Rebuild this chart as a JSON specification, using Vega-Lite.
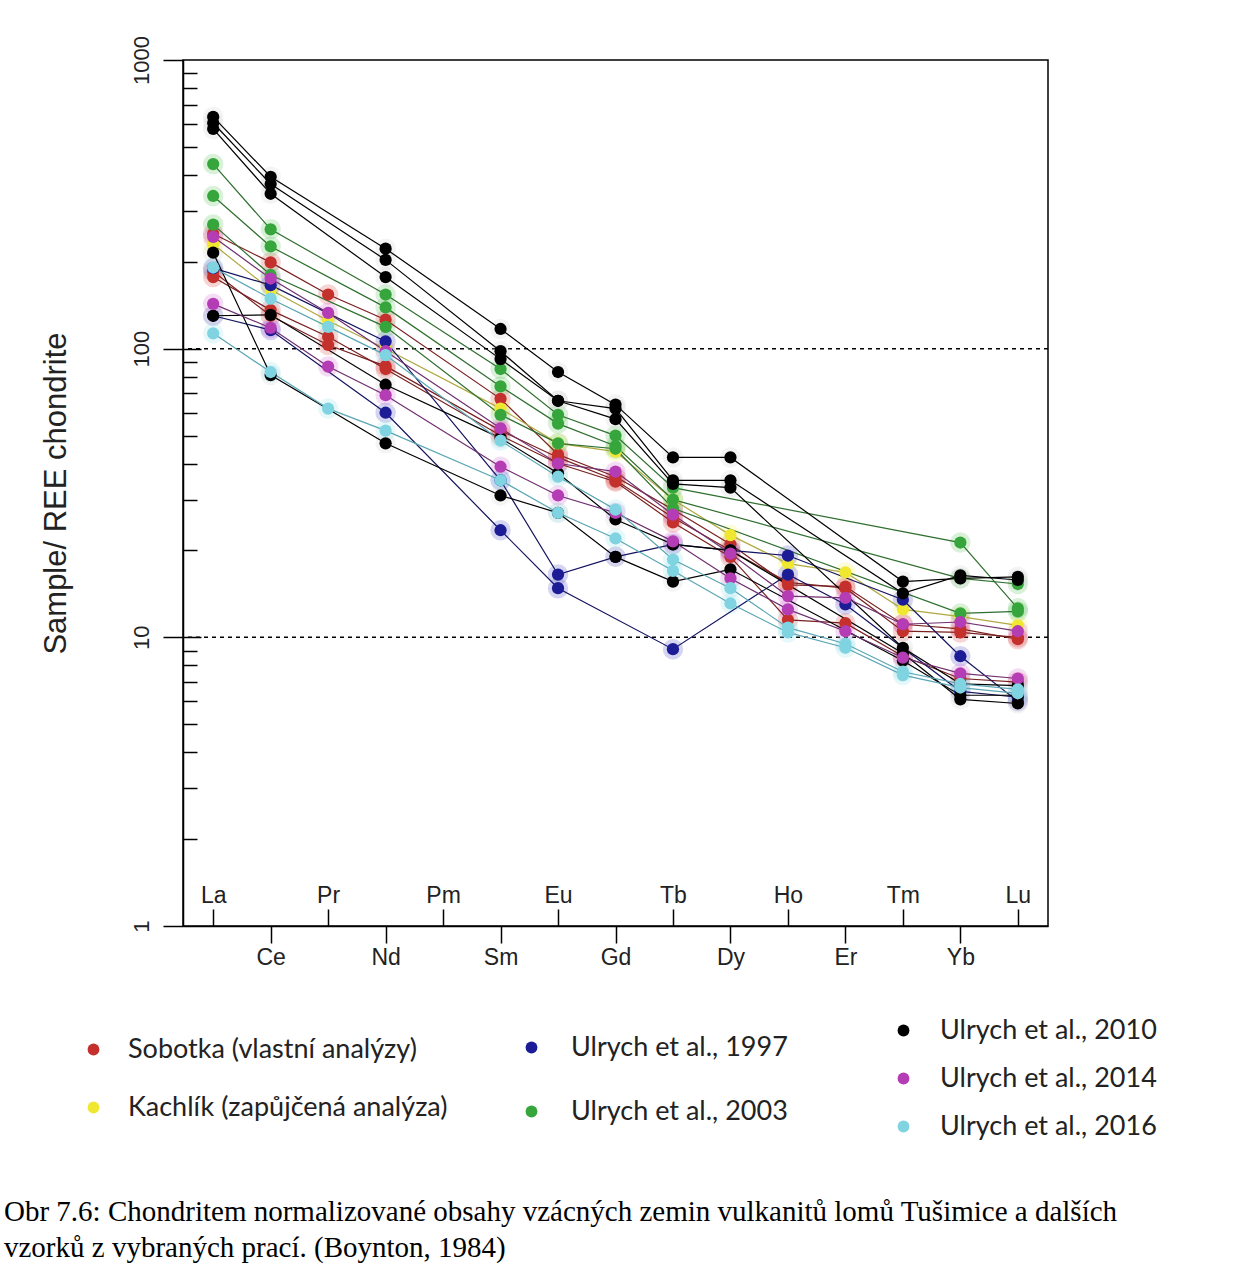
{
  "$schema": "https://vega.github.io/schema/vega-lite/v6.json",
  "width": 865,
  "height": 866,
  "autosize": {"type": "none"},
  "padding": {"left": 183, "top": 60, "right": 191, "bottom": 341},
  "background": "white",
  "title": {
    "text": ["Obr 7.6:  Chondritem normalizované obsahy vzácných zemin vulkanitů lomů Tušimice a dalších", "vzorků z vybraných prací. (Boynton, 1984)"],
    "orient": "bottom", "anchor": "start", "frame": "group", "offset": 58, "dx": -179,
    "font": "Liberation Serif", "fontSize": 29, "fontWeight": "normal", "lineHeight": 36, "color": "#000000"
  },
  "datasets": {
    "ree": [
      {"s":"R1","g":"Sobotka (vlastní analýzy)","e":"La","v":250},
      {"s":"R1","g":"Sobotka (vlastní analýzy)","e":"Ce","v":199},
      {"s":"R1","g":"Sobotka (vlastní analýzy)","e":"Pr","v":154},
      {"s":"R1","g":"Sobotka (vlastní analýzy)","e":"Nd","v":126},
      {"s":"R1","g":"Sobotka (vlastní analýzy)","e":"Sm","v":67},
      {"s":"R1","g":"Sobotka (vlastní analýzy)","e":"Eu","v":43},
      {"s":"R1","g":"Sobotka (vlastní analýzy)","e":"Gd","v":36},
      {"s":"R1","g":"Sobotka (vlastní analýzy)","e":"Tb","v":27.7},
      {"s":"R1","g":"Sobotka (vlastní analýzy)","e":"Dy","v":21},
      {"s":"R1","g":"Sobotka (vlastní analýzy)","e":"Ho","v":15.2},
      {"s":"R1","g":"Sobotka (vlastní analýzy)","e":"Er","v":15},
      {"s":"R1","g":"Sobotka (vlastní analýzy)","e":"Tm","v":11.1},
      {"s":"R1","g":"Sobotka (vlastní analýzy)","e":"Yb","v":10.7},
      {"s":"R1","g":"Sobotka (vlastní analýzy)","e":"Lu","v":9.85},
      {"s":"R2","g":"Sobotka (vlastní analýzy)","e":"La","v":177},
      {"s":"R2","g":"Sobotka (vlastní analýzy)","e":"Ce","v":136},
      {"s":"R2","g":"Sobotka (vlastní analýzy)","e":"Pr","v":110},
      {"s":"R2","g":"Sobotka (vlastní analýzy)","e":"Nd","v":85},
      {"s":"R2","g":"Sobotka (vlastní analýzy)","e":"Sm","v":50},
      {"s":"R2","g":"Sobotka (vlastní analýzy)","e":"Eu","v":40},
      {"s":"R2","g":"Sobotka (vlastní analýzy)","e":"Gd","v":34.6},
      {"s":"R2","g":"Sobotka (vlastní analýzy)","e":"Tb","v":25},
      {"s":"R2","g":"Sobotka (vlastní analýzy)","e":"Dy","v":19},
      {"s":"R2","g":"Sobotka (vlastní analýzy)","e":"Ho","v":11.5},
      {"s":"R2","g":"Sobotka (vlastní analýzy)","e":"Er","v":11.2},
      {"s":"R2","g":"Sobotka (vlastní analýzy)","e":"Tm","v":8.6},
      {"s":"R2","g":"Sobotka (vlastní analýzy)","e":"Yb","v":7.2},
      {"s":"R2","g":"Sobotka (vlastní analýzy)","e":"Lu","v":7.0},
      {"s":"R3","g":"Sobotka (vlastní analýzy)","e":"La","v":185},
      {"s":"R3","g":"Sobotka (vlastní analýzy)","e":"Ce","v":130},
      {"s":"R3","g":"Sobotka (vlastní analýzy)","e":"Pr","v":103},
      {"s":"R3","g":"Sobotka (vlastní analýzy)","e":"Nd","v":87},
      {"s":"R3","g":"Sobotka (vlastní analýzy)","e":"Sm","v":52},
      {"s":"R3","g":"Sobotka (vlastní analýzy)","e":"Eu","v":42},
      {"s":"R3","g":"Sobotka (vlastní analýzy)","e":"Gd","v":35},
      {"s":"R3","g":"Sobotka (vlastní analýzy)","e":"Tb","v":26},
      {"s":"R3","g":"Sobotka (vlastní analýzy)","e":"Dy","v":20},
      {"s":"R3","g":"Sobotka (vlastní analýzy)","e":"Ho","v":15.5},
      {"s":"R3","g":"Sobotka (vlastní analýzy)","e":"Er","v":14.8},
      {"s":"R3","g":"Sobotka (vlastní analýzy)","e":"Tm","v":10.5},
      {"s":"R3","g":"Sobotka (vlastní analýzy)","e":"Yb","v":10.4},
      {"s":"R3","g":"Sobotka (vlastní analýzy)","e":"Lu","v":10.0},
      {"s":"K1","g":"Kachlík (zapůjčená analýza)","e":"La","v":230},
      {"s":"K1","g":"Kachlík (zapůjčená analýza)","e":"Ce","v":160},
      {"s":"K1","g":"Kachlík (zapůjčená analýza)","e":"Pr","v":125},
      {"s":"K1","g":"Kachlík (zapůjčená analýza)","e":"Nd","v":100},
      {"s":"K1","g":"Kachlík (zapůjčená analýza)","e":"Sm","v":62},
      {"s":"K1","g":"Kachlík (zapůjčená analýza)","e":"Eu","v":47},
      {"s":"K1","g":"Kachlík (zapůjčená analýza)","e":"Gd","v":44},
      {"s":"K1","g":"Kachlík (zapůjčená analýza)","e":"Tb","v":30},
      {"s":"K1","g":"Kachlík (zapůjčená analýza)","e":"Dy","v":22.6},
      {"s":"K1","g":"Kachlík (zapůjčená analýza)","e":"Ho","v":18},
      {"s":"K1","g":"Kachlík (zapůjčená analýza)","e":"Er","v":16.8},
      {"s":"K1","g":"Kachlík (zapůjčená analýza)","e":"Tm","v":12.5},
      {"s":"K1","g":"Kachlík (zapůjčená analýza)","e":"Yb","v":11.8},
      {"s":"K1","g":"Kachlík (zapůjčená analýza)","e":"Lu","v":11},
      {"s":"N1","g":"Ulrych et al., 1997","e":"La","v":190},
      {"s":"N1","g":"Ulrych et al., 1997","e":"Ce","v":166},
      {"s":"N1","g":"Ulrych et al., 1997","e":"Nd","v":106},
      {"s":"N1","g":"Ulrych et al., 1997","e":"Sm","v":35},
      {"s":"N1","g":"Ulrych et al., 1997","e":"Eu","v":16.5},
      {"s":"N1","g":"Ulrych et al., 1997","e":"Gd","v":19},
      {"s":"N1","g":"Ulrych et al., 1997","e":"Tb","v":21},
      {"s":"N1","g":"Ulrych et al., 1997","e":"Dy","v":20},
      {"s":"N1","g":"Ulrych et al., 1997","e":"Ho","v":19.2},
      {"s":"N1","g":"Ulrych et al., 1997","e":"Tm","v":13.5},
      {"s":"N1","g":"Ulrych et al., 1997","e":"Yb","v":8.6},
      {"s":"N1","g":"Ulrych et al., 1997","e":"Lu","v":6.0},
      {"s":"N2","g":"Ulrych et al., 1997","e":"La","v":130},
      {"s":"N2","g":"Ulrych et al., 1997","e":"Ce","v":116},
      {"s":"N2","g":"Ulrych et al., 1997","e":"Nd","v":60},
      {"s":"N2","g":"Ulrych et al., 1997","e":"Sm","v":23.5},
      {"s":"N2","g":"Ulrych et al., 1997","e":"Eu","v":14.8},
      {"s":"N2","g":"Ulrych et al., 1997","e":"Tb","v":9.1},
      {"s":"N2","g":"Ulrych et al., 1997","e":"Ho","v":16.5},
      {"s":"N2","g":"Ulrych et al., 1997","e":"Er","v":13},
      {"s":"N2","g":"Ulrych et al., 1997","e":"Yb","v":6.5},
      {"s":"N2","g":"Ulrych et al., 1997","e":"Lu","v":6.2},
      {"s":"G1","g":"Ulrych et al., 2003","e":"La","v":436},
      {"s":"G1","g":"Ulrych et al., 2003","e":"Ce","v":259},
      {"s":"G1","g":"Ulrych et al., 2003","e":"Nd","v":154},
      {"s":"G1","g":"Ulrych et al., 2003","e":"Sm","v":85},
      {"s":"G1","g":"Ulrych et al., 2003","e":"Eu","v":59},
      {"s":"G1","g":"Ulrych et al., 2003","e":"Gd","v":50},
      {"s":"G1","g":"Ulrych et al., 2003","e":"Tb","v":33},
      {"s":"G1","g":"Ulrych et al., 2003","e":"Yb","v":21.3},
      {"s":"G1","g":"Ulrych et al., 2003","e":"Lu","v":12.6},
      {"s":"G2","g":"Ulrych et al., 2003","e":"La","v":338},
      {"s":"G2","g":"Ulrych et al., 2003","e":"Ce","v":226},
      {"s":"G2","g":"Ulrych et al., 2003","e":"Nd","v":139},
      {"s":"G2","g":"Ulrych et al., 2003","e":"Sm","v":74},
      {"s":"G2","g":"Ulrych et al., 2003","e":"Eu","v":55},
      {"s":"G2","g":"Ulrych et al., 2003","e":"Gd","v":46},
      {"s":"G2","g":"Ulrych et al., 2003","e":"Tb","v":30},
      {"s":"G2","g":"Ulrych et al., 2003","e":"Yb","v":16},
      {"s":"G2","g":"Ulrych et al., 2003","e":"Lu","v":15.3},
      {"s":"G3","g":"Ulrych et al., 2003","e":"La","v":269},
      {"s":"G3","g":"Ulrych et al., 2003","e":"Ce","v":180},
      {"s":"G3","g":"Ulrych et al., 2003","e":"Nd","v":119},
      {"s":"G3","g":"Ulrych et al., 2003","e":"Sm","v":59},
      {"s":"G3","g":"Ulrych et al., 2003","e":"Eu","v":47},
      {"s":"G3","g":"Ulrych et al., 2003","e":"Gd","v":45},
      {"s":"G3","g":"Ulrych et al., 2003","e":"Tb","v":28},
      {"s":"G3","g":"Ulrych et al., 2003","e":"Yb","v":12.1},
      {"s":"G3","g":"Ulrych et al., 2003","e":"Lu","v":12.3},
      {"s":"B1","g":"Ulrych et al., 2010","e":"La","v":635},
      {"s":"B1","g":"Ulrych et al., 2010","e":"Ce","v":394},
      {"s":"B1","g":"Ulrych et al., 2010","e":"Nd","v":222},
      {"s":"B1","g":"Ulrych et al., 2010","e":"Sm","v":117},
      {"s":"B1","g":"Ulrych et al., 2010","e":"Eu","v":83},
      {"s":"B1","g":"Ulrych et al., 2010","e":"Gd","v":64},
      {"s":"B1","g":"Ulrych et al., 2010","e":"Tb","v":42},
      {"s":"B1","g":"Ulrych et al., 2010","e":"Dy","v":42},
      {"s":"B1","g":"Ulrych et al., 2010","e":"Tm","v":15.6},
      {"s":"B1","g":"Ulrych et al., 2010","e":"Yb","v":16},
      {"s":"B1","g":"Ulrych et al., 2010","e":"Lu","v":16.2},
      {"s":"B2","g":"Ulrych et al., 2010","e":"La","v":605},
      {"s":"B2","g":"Ulrych et al., 2010","e":"Ce","v":372},
      {"s":"B2","g":"Ulrych et al., 2010","e":"Nd","v":203},
      {"s":"B2","g":"Ulrych et al., 2010","e":"Sm","v":98},
      {"s":"B2","g":"Ulrych et al., 2010","e":"Eu","v":66},
      {"s":"B2","g":"Ulrych et al., 2010","e":"Gd","v":62},
      {"s":"B2","g":"Ulrych et al., 2010","e":"Tb","v":35},
      {"s":"B2","g":"Ulrych et al., 2010","e":"Dy","v":35},
      {"s":"B2","g":"Ulrych et al., 2010","e":"Tm","v":14.2},
      {"s":"B2","g":"Ulrych et al., 2010","e":"Yb","v":16.4},
      {"s":"B2","g":"Ulrych et al., 2010","e":"Lu","v":15.8},
      {"s":"B3","g":"Ulrych et al., 2010","e":"La","v":577},
      {"s":"B3","g":"Ulrych et al., 2010","e":"Ce","v":344},
      {"s":"B3","g":"Ulrych et al., 2010","e":"Nd","v":177},
      {"s":"B3","g":"Ulrych et al., 2010","e":"Sm","v":92},
      {"s":"B3","g":"Ulrych et al., 2010","e":"Eu","v":66},
      {"s":"B3","g":"Ulrych et al., 2010","e":"Gd","v":57},
      {"s":"B3","g":"Ulrych et al., 2010","e":"Tb","v":34},
      {"s":"B3","g":"Ulrych et al., 2010","e":"Dy","v":33},
      {"s":"B3","g":"Ulrych et al., 2010","e":"Tm","v":9.2},
      {"s":"B3","g":"Ulrych et al., 2010","e":"Yb","v":6.9},
      {"s":"B3","g":"Ulrych et al., 2010","e":"Lu","v":6.8},
      {"s":"B4","g":"Ulrych et al., 2010","e":"La","v":215},
      {"s":"B4","g":"Ulrych et al., 2010","e":"Ce","v":81},
      {"s":"B4","g":"Ulrych et al., 2010","e":"Nd","v":47},
      {"s":"B4","g":"Ulrych et al., 2010","e":"Sm","v":31},
      {"s":"B4","g":"Ulrych et al., 2010","e":"Eu","v":27},
      {"s":"B4","g":"Ulrych et al., 2010","e":"Gd","v":19},
      {"s":"B4","g":"Ulrych et al., 2010","e":"Tb","v":15.6},
      {"s":"B4","g":"Ulrych et al., 2010","e":"Dy","v":17.2},
      {"s":"B4","g":"Ulrych et al., 2010","e":"Tm","v":8.3},
      {"s":"B4","g":"Ulrych et al., 2010","e":"Yb","v":6.3},
      {"s":"B4","g":"Ulrych et al., 2010","e":"Lu","v":6.3},
      {"s":"B5","g":"Ulrych et al., 2010","e":"La","v":130},
      {"s":"B5","g":"Ulrych et al., 2010","e":"Ce","v":131},
      {"s":"B5","g":"Ulrych et al., 2010","e":"Nd","v":75},
      {"s":"B5","g":"Ulrych et al., 2010","e":"Sm","v":49},
      {"s":"B5","g":"Ulrych et al., 2010","e":"Eu","v":37},
      {"s":"B5","g":"Ulrych et al., 2010","e":"Gd","v":25.6},
      {"s":"B5","g":"Ulrych et al., 2010","e":"Tb","v":21},
      {"s":"B5","g":"Ulrych et al., 2010","e":"Dy","v":20},
      {"s":"B5","g":"Ulrych et al., 2010","e":"Tm","v":8.8},
      {"s":"B5","g":"Ulrych et al., 2010","e":"Yb","v":6.1},
      {"s":"B5","g":"Ulrych et al., 2010","e":"Lu","v":5.9},
      {"s":"M1","g":"Ulrych et al., 2014","e":"La","v":244},
      {"s":"M1","g":"Ulrych et al., 2014","e":"Ce","v":175},
      {"s":"M1","g":"Ulrych et al., 2014","e":"Pr","v":133},
      {"s":"M1","g":"Ulrych et al., 2014","e":"Nd","v":98},
      {"s":"M1","g":"Ulrych et al., 2014","e":"Sm","v":53},
      {"s":"M1","g":"Ulrych et al., 2014","e":"Eu","v":40},
      {"s":"M1","g":"Ulrych et al., 2014","e":"Gd","v":37.5},
      {"s":"M1","g":"Ulrych et al., 2014","e":"Tb","v":26.6},
      {"s":"M1","g":"Ulrych et al., 2014","e":"Dy","v":19.5},
      {"s":"M1","g":"Ulrych et al., 2014","e":"Ho","v":13.9},
      {"s":"M1","g":"Ulrych et al., 2014","e":"Er","v":13.7},
      {"s":"M1","g":"Ulrych et al., 2014","e":"Tm","v":11.1},
      {"s":"M1","g":"Ulrych et al., 2014","e":"Yb","v":11.3},
      {"s":"M1","g":"Ulrych et al., 2014","e":"Lu","v":10.5},
      {"s":"M2","g":"Ulrych et al., 2014","e":"La","v":143},
      {"s":"M2","g":"Ulrych et al., 2014","e":"Ce","v":118},
      {"s":"M2","g":"Ulrych et al., 2014","e":"Pr","v":86.7},
      {"s":"M2","g":"Ulrych et al., 2014","e":"Nd","v":69},
      {"s":"M2","g":"Ulrych et al., 2014","e":"Sm","v":39},
      {"s":"M2","g":"Ulrych et al., 2014","e":"Eu","v":31},
      {"s":"M2","g":"Ulrych et al., 2014","e":"Gd","v":27},
      {"s":"M2","g":"Ulrych et al., 2014","e":"Tb","v":21.5},
      {"s":"M2","g":"Ulrych et al., 2014","e":"Dy","v":16},
      {"s":"M2","g":"Ulrych et al., 2014","e":"Ho","v":12.5},
      {"s":"M2","g":"Ulrych et al., 2014","e":"Er","v":10.5},
      {"s":"M2","g":"Ulrych et al., 2014","e":"Tm","v":8.5},
      {"s":"M2","g":"Ulrych et al., 2014","e":"Yb","v":7.5},
      {"s":"M2","g":"Ulrych et al., 2014","e":"Lu","v":7.2},
      {"s":"C1","g":"Ulrych et al.,  2016","e":"La","v":191},
      {"s":"C1","g":"Ulrych et al.,  2016","e":"Ce","v":149},
      {"s":"C1","g":"Ulrych et al.,  2016","e":"Pr","v":119},
      {"s":"C1","g":"Ulrych et al.,  2016","e":"Nd","v":95},
      {"s":"C1","g":"Ulrych et al.,  2016","e":"Sm","v":48},
      {"s":"C1","g":"Ulrych et al.,  2016","e":"Eu","v":36},
      {"s":"C1","g":"Ulrych et al.,  2016","e":"Gd","v":27.7},
      {"s":"C1","g":"Ulrych et al.,  2016","e":"Tb","v":18.6},
      {"s":"C1","g":"Ulrych et al.,  2016","e":"Dy","v":14.8},
      {"s":"C1","g":"Ulrych et al.,  2016","e":"Ho","v":10.8},
      {"s":"C1","g":"Ulrych et al.,  2016","e":"Er","v":9.5},
      {"s":"C1","g":"Ulrych et al.,  2016","e":"Tm","v":7.6},
      {"s":"C1","g":"Ulrych et al.,  2016","e":"Yb","v":6.9},
      {"s":"C1","g":"Ulrych et al.,  2016","e":"Lu","v":6.6},
      {"s":"C2","g":"Ulrych et al.,  2016","e":"La","v":113},
      {"s":"C2","g":"Ulrych et al.,  2016","e":"Ce","v":83},
      {"s":"C2","g":"Ulrych et al.,  2016","e":"Pr","v":62},
      {"s":"C2","g":"Ulrych et al.,  2016","e":"Nd","v":52},
      {"s":"C2","g":"Ulrych et al.,  2016","e":"Sm","v":35},
      {"s":"C2","g":"Ulrych et al.,  2016","e":"Eu","v":27},
      {"s":"C2","g":"Ulrych et al.,  2016","e":"Gd","v":22},
      {"s":"C2","g":"Ulrych et al.,  2016","e":"Tb","v":17},
      {"s":"C2","g":"Ulrych et al.,  2016","e":"Dy","v":13.1},
      {"s":"C2","g":"Ulrych et al.,  2016","e":"Ho","v":10.4},
      {"s":"C2","g":"Ulrych et al.,  2016","e":"Er","v":9.2},
      {"s":"C2","g":"Ulrych et al.,  2016","e":"Tm","v":7.4},
      {"s":"C2","g":"Ulrych et al.,  2016","e":"Yb","v":6.7},
      {"s":"C2","g":"Ulrych et al.,  2016","e":"Lu","v":6.4}
    ]
  },
  "resolve": {"scale": {"color": "independent"}, "axis": {"x": "independent", "y": "independent"}},
  "layer": [
    {
      "data": {"values": [{"ref": 10}, {"ref": 100}]},
      "mark": {"type": "rule", "color": "#000000", "strokeWidth": 1.5, "strokeDash": [4, 4]},
      "encoding": {
        "y": {"field": "ref", "type": "quantitative",
          "scale": {"type": "log", "domain": [1, 1000], "nice": false},
          "axis": {"values": [1, 10, 100, 1000], "format": "d", "orient": "left", "tickSize": 20, "tickWidth": 1.5, "tickColor": "#000000",
            "domain": true, "domainColor": "#000000", "domainWidth": 1.5, "grid": false,
            "labelAngle": -90, "labelAlign": "center", "labelBaseline": "alphabetic", "labelPadding": 15,
            "labelFont": "Liberation Sans", "labelFontSize": 22, "labelColor": "#222222",
            "labelFlush": false, "labelOverlap": false, "labelBound": false,
            "title": "Sample/ REE chondrite", "titleFont": "Liberation Sans", "titleFontSize": 31,
            "titleFontWeight": "normal", "titleColor": "#222222", "titlePadding": 58}}
      }
    },
    {
      "data": {"name": "ree"},
      "mark": {"type": "point", "filled": true, "opacity": 0.22, "size": 420, "shape": "circle"},
      "encoding": {
        "x": {"field": "e", "type": "ordinal",
          "sort": ["La","Ce","Pr","Nd","Pm","Sm","Eu","Gd","Tb","Dy","Ho","Er","Tm","Yb","Lu"],
          "scale": {"type": "point", "padding": 0.525,
            "domain": ["La","Ce","Pr","Nd","Pm","Sm","Eu","Gd","Tb","Dy","Ho","Er","Tm","Yb","Lu"]},
          "axis": {"values": ["Ce","Nd","Sm","Gd","Dy","Er","Yb"], "orient": "bottom", "tickSize": 17, "tickWidth": 1.5,
            "tickColor": "#000000", "domain": false, "grid": false, "labelAngle": 0, "labelPadding": 3,
            "labelBaseline": "top", "labelFont": "Liberation Sans", "labelFontSize": 23, "labelColor": "#222222", "title": null}},
        "y": {"field": "v", "type": "quantitative", "scale": {"type": "log", "domain": [1, 1000], "nice": false},
          "axis": {"values": [10, 100], "orient": "left", "tickSize": -18, "tickWidth": 1.5, "tickColor": "#000000",
            "domain": false, "labels": false, "grid": false, "title": null}},
        "color": {"field": "g", "type": "nominal", "legend": null,
          "scale": {"domain": ["Sobotka (vlastní analýzy)","Kachlík (zapůjčená analýza)","Ulrych et al., 1997","Ulrych et al., 2003","Ulrych et al., 2010","Ulrych et al., 2014","Ulrych et al.,  2016"],
            "range": ["#d84040","#f5f050","#4040c0","#50c050","#cccccc","#d060d0","#90e0ea"]}}
      }
    },
    {
      "data": {"name": "ree"},
      "mark": {"type": "line", "strokeWidth": 1.2},
      "encoding": {
        "x": {"field": "e", "type": "ordinal",
          "sort": ["La","Ce","Pr","Nd","Pm","Sm","Eu","Gd","Tb","Dy","Ho","Er","Tm","Yb","Lu"],
          "scale": {"type": "point", "padding": 0.525,
            "domain": ["La","Ce","Pr","Nd","Pm","Sm","Eu","Gd","Tb","Dy","Ho","Er","Tm","Yb","Lu"]},
          "axis": {"values": ["La","Pr","Pm","Eu","Tb","Ho","Tm","Lu"], "orient": "bottom", "tickSize": -17, "tickWidth": 1.5,
            "tickColor": "#000000", "domain": true, "domainColor": "#000000", "domainWidth": 1.5, "grid": false,
            "labelAngle": 0, "labelPadding": -7, "labelBaseline": "alphabetic",
            "labelFont": "Liberation Sans", "labelFontSize": 23, "labelColor": "#222222", "title": null}},
        "y": {"field": "v", "type": "quantitative", "scale": {"type": "log", "domain": [1, 1000], "nice": false},
          "axis": {"values": [2,3,4,5,6,7,8,9,20,30,40,50,60,70,80,90,200,300,400,500,600,700,800,900],
            "orient": "left", "tickSize": -14, "tickWidth": 1.5, "tickColor": "#000000",
            "domain": false, "labels": false, "grid": false, "title": null}},
        "detail": {"field": "s", "type": "nominal"},
        "color": {"field": "g", "type": "nominal", "legend": null,
          "scale": {"domain": ["Sobotka (vlastní analýzy)","Kachlík (zapůjčená analýza)","Ulrych et al., 1997","Ulrych et al., 2003","Ulrych et al., 2010","Ulrych et al., 2014","Ulrych et al.,  2016"],
            "range": ["#7a2020","#b0a840","#141460","#2f6f2f","#000000","#6f2f6f","#5aa6b4"]}}
      }
    },
    {
      "data": {"name": "ree"},
      "transform": [{"filter": {"field": "g", "oneOf": ["Sobotka (vlastní analýzy)","Kachlík (zapůjčená analýza)"]}}],
      "mark": {"type": "point", "filled": true, "opacity": 1, "size": 150, "shape": "circle"},
      "encoding": {
        "x": {"field": "e", "type": "ordinal", "axis": null,
          "sort": ["La","Ce","Pr","Nd","Pm","Sm","Eu","Gd","Tb","Dy","Ho","Er","Tm","Yb","Lu"],
          "scale": {"type": "point", "padding": 0.525,
            "domain": ["La","Ce","Pr","Nd","Pm","Sm","Eu","Gd","Tb","Dy","Ho","Er","Tm","Yb","Lu"]}},
        "y": {"field": "v", "type": "quantitative", "axis": null, "scale": {"type": "log", "domain": [1, 1000], "nice": false}},
        "color": {"field": "g", "type": "nominal",
          "scale": {"domain": ["Sobotka (vlastní analýzy)","Kachlík (zapůjčená analýza)"], "range": ["#c4302c","#f0e830"]},
          "legend": {"title": null, "orient": "none", "legendX": -103, "legendY": 976, "direction": "vertical",
            "symbolType": "circle", "symbolSize": 140, "labelFont": "Lato", "labelFontSize": 27, "labelColor": "#222222",
            "labelOffset": 21, "rowPadding": 30, "padding": 0, "labelLimit": 0}}
      }
    },
    {
      "data": {"name": "ree"},
      "transform": [{"filter": {"field": "g", "oneOf": ["Ulrych et al., 1997","Ulrych et al., 2003"]}}],
      "mark": {"type": "point", "filled": true, "opacity": 1, "size": 150, "shape": "circle"},
      "encoding": {
        "x": {"field": "e", "type": "ordinal", "axis": null,
          "sort": ["La","Ce","Pr","Nd","Pm","Sm","Eu","Gd","Tb","Dy","Ho","Er","Tm","Yb","Lu"],
          "scale": {"type": "point", "padding": 0.525,
            "domain": ["La","Ce","Pr","Nd","Pm","Sm","Eu","Gd","Tb","Dy","Ho","Er","Tm","Yb","Lu"]}},
        "y": {"field": "v", "type": "quantitative", "axis": null, "scale": {"type": "log", "domain": [1, 1000], "nice": false}},
        "color": {"field": "g", "type": "nominal",
          "scale": {"domain": ["Ulrych et al., 1997","Ulrych et al., 2003"], "range": ["#1c1c96","#36a63c"]},
          "legend": {"title": null, "orient": "none", "legendX": 335, "legendY": 974, "direction": "vertical",
            "symbolType": "circle", "symbolSize": 140, "labelFont": "Lato", "labelFontSize": 27, "labelColor": "#222222",
            "labelOffset": 26, "rowPadding": 36, "padding": 0, "labelLimit": 0}}
      }
    },
    {
      "data": {"name": "ree"},
      "transform": [{"filter": {"field": "g", "oneOf": ["Ulrych et al., 2010","Ulrych et al., 2014","Ulrych et al.,  2016"]}}],
      "mark": {"type": "point", "filled": true, "opacity": 1, "size": 150, "shape": "circle"},
      "encoding": {
        "x": {"field": "e", "type": "ordinal", "axis": null,
          "sort": ["La","Ce","Pr","Nd","Pm","Sm","Eu","Gd","Tb","Dy","Ho","Er","Tm","Yb","Lu"],
          "scale": {"type": "point", "padding": 0.525,
            "domain": ["La","Ce","Pr","Nd","Pm","Sm","Eu","Gd","Tb","Dy","Ho","Er","Tm","Yb","Lu"]}},
        "y": {"field": "v", "type": "quantitative", "axis": null, "scale": {"type": "log", "domain": [1, 1000], "nice": false}},
        "color": {"field": "g", "type": "nominal",
          "scale": {"domain": ["Ulrych et al., 2010","Ulrych et al., 2014","Ulrych et al.,  2016"], "range": ["#000000","#b43cb4","#80d4e2"]},
          "legend": {"title": null, "orient": "none", "legendX": 707, "legendY": 957, "direction": "vertical",
            "symbolType": "circle", "symbolSize": 140, "labelFont": "Lato", "labelFontSize": 27, "labelColor": "#222222",
            "labelOffset": 23, "rowPadding": 20, "padding": 0, "labelLimit": 0}}
      }
    }
  ],
  "config": {
    "view": {"stroke": "#000000", "strokeWidth": 1.5},
    "legend": {"symbolStrokeWidth": 0}
  }
}
